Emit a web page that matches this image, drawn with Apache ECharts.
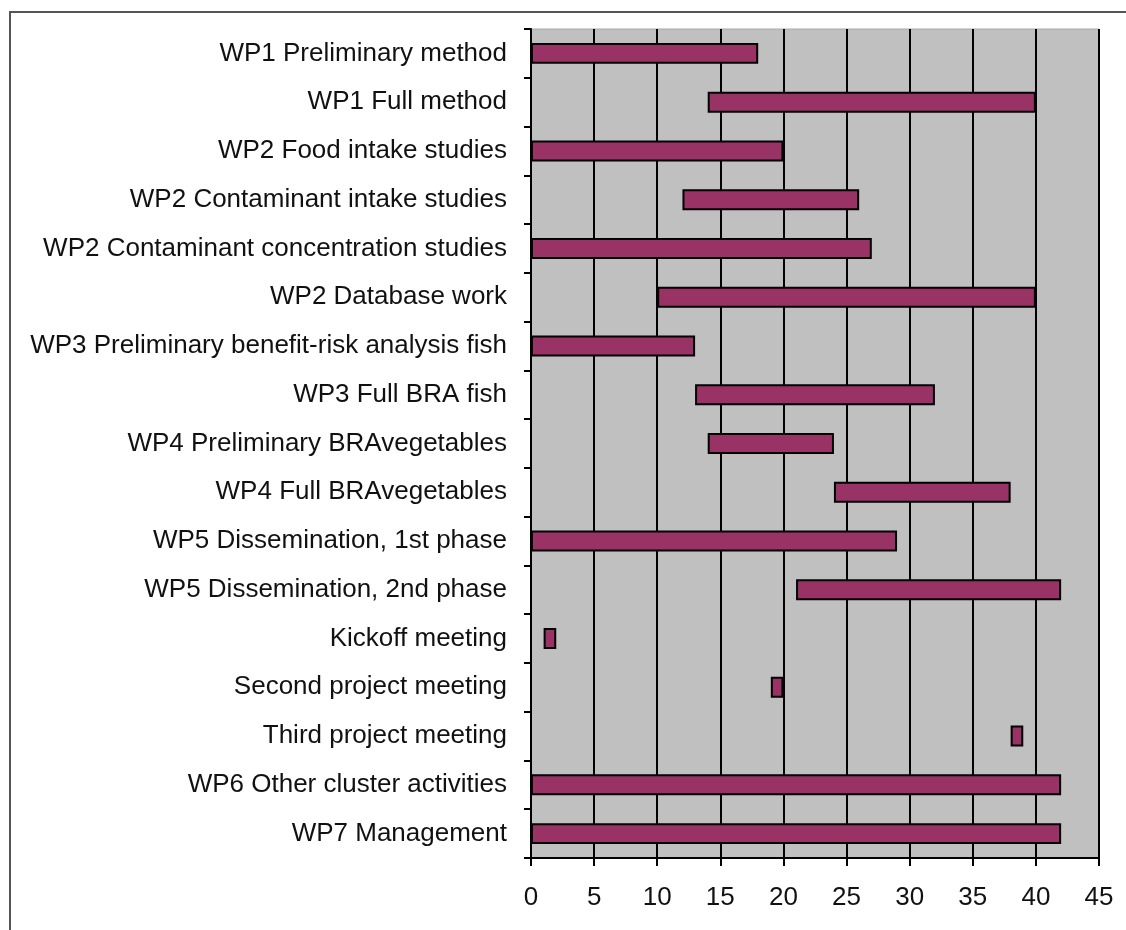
<!DOCTYPE html>
<html>
<head>
<meta charset="utf-8">
<script src="https://cdn.jsdelivr.net/npm/echarts@6/dist/echarts.min.js"></script>
<style>
  html, body { margin: 0; padding: 0; background: #fff; }
  #frame {
    position: absolute; left: 9px; top: 11px;
    width: 1200px; height: 1000px;
    border: 2px solid #555; box-sizing: border-box;
  }
  #chart { position: absolute; left: 0; top: 0; width: 1126px; height: 930px; }
</style>
</head>
<body>
<div id="frame"></div>
<div id="chart"></div>
<script>
// tasks, top to bottom
const tasks = [
  'WP1 Preliminary method',
  'WP1 Full method',
  'WP2 Food intake studies',
  'WP2 Contaminant intake studies',
  'WP2 Contaminant concentration studies',
  'WP2 Database work',
  'WP3 Preliminary benefit-risk analysis fish',
  'WP3 Full BRA fish',
  'WP4 Preliminary BRAvegetables',
  'WP4 Full BRAvegetables',
  'WP5 Dissemination, 1st phase',
  'WP5 Dissemination, 2nd phase',
  'Kickoff meeting',
  'Second project meeting',
  'Third project meeting',
  'WP6 Other cluster activities',
  'WP7 Management'
]
// start and end month of each task
const startMonth = [0, 14, 0, 12, 0, 10, 0, 13, 14, 24, 0, 21, 1, 19, 38, 0, 0]
const endMonth = [18, 40, 20, 26, 27, 40, 13, 32, 24, 38, 29, 42, 2, 20, 39, 42, 42]
const monthTicks = [0, 5, 10, 15, 20, 25, 30, 35, 40, 45]

const duration = endMonth.map((e, i) => e - startMonth[i])

const chart = echarts.init(document.getElementById('chart'))
chart.setOption({
  animation: false,
  textStyle: { fontFamily: 'Liberation Sans, Arial, sans-serif' },
  grid: {
    left: 531,
    right: 27,
    top: 29,
    bottom: 72,
    show: true,
    backgroundColor: '#c0c0c0',
    borderColor: '#a8a8a8',
    borderWidth: 1
  },
  xAxis: {
    type: 'value',
    min: monthTicks[0],
    max: monthTicks[monthTicks.length - 1],
    interval: 5,
    axisLine: { show: true, lineStyle: { color: '#000', width: 2 } },
    axisTick: { show: true, length: 8, lineStyle: { color: '#000', width: 2 } },
    axisLabel: { margin: 27, fontSize: 26, color: '#111' },
    splitLine: { show: true, lineStyle: { color: '#000', width: 2 } }
  },
  yAxis: {
    type: 'category',
    inverse: true,
    data: tasks,
    axisLine: { show: true, lineStyle: { color: '#000', width: 2 } },
    axisTick: { show: true, length: 7, lineStyle: { color: '#000', width: 2 } },
    axisLabel: { margin: 24, fontSize: 26, color: '#111' },
    splitLine: { show: false }
  },
  series: [
    {
      name: 'start',
      type: 'bar',
      stack: 'gantt',
      barWidth: '43%',
      itemStyle: { color: 'transparent' },
      data: startMonth
    },
    {
      name: 'duration',
      type: 'bar',
      stack: 'gantt',
      barWidth: '43%',
      itemStyle: { color: '#993366', borderColor: '#000', borderWidth: 2 },
      data: duration
    }
  ]
})
</script>
</body>
</html>
